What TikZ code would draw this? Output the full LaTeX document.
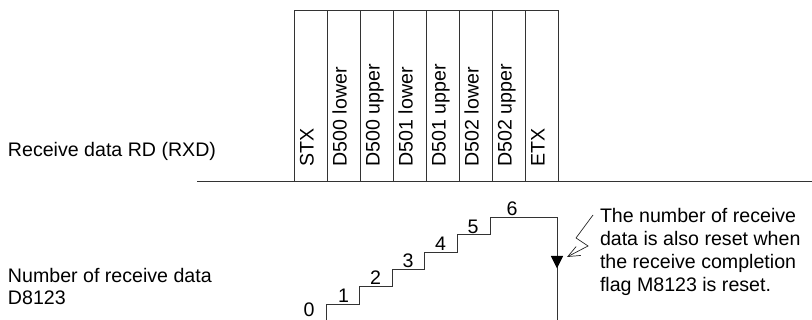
\documentclass[tikz,border=0pt]{standalone}
\usepackage{fontspec}
\setmainfont{Liberation Sans}
\usetikzlibrary{arrows.meta}
\begin{document}
\begin{tikzpicture}[x=1pt,y=-1pt,
  ln/.style={line width=0.9pt, draw=black!80},
  thin ln/.style={line width=0.7pt, draw=black!85},
  txt/.style={font=\fontsize{19.6}{22.8}\selectfont, inner sep=0pt, outer sep=0pt},
  cellbox/.style={rectangle, ln, minimum width=33pt, minimum height=171pt, inner sep=0pt, outer sep=0pt},
  celltext/.style={txt, rotate=90, anchor=west, text height=0.72em, text depth=0.21em},
  num/.style={txt, anchor=base}]
\useasboundingbox (0,0) rectangle (812,320);

% frame cells of the received data
\foreach \t [count=\i from 0] in {STX, D500 lower, D500 upper, D501 lower, D501 upper, D502 lower, D502 upper, ETX} {
  \node[cellbox] (c\i) at (311+33*\i, 95.5) {};
  \node[celltext] (t\i) at (311+33*\i, 166.5) {\t};
}

% signal base line
\coordinate (hl) at (197,181);
\coordinate (hr) at (812,181);
\draw[ln] (hl) -- (hr);

% row labels
\node[txt, anchor=base west] (rdlabel) at (8,156.5) {Receive data RD (RXD)};
\node[txt, anchor=north west, align=left, font=\fontsize{19.6}{22}\selectfont] (cntlabel) at (8,268.7) {Number of receive data\\D8123};

% staircase of the count
\draw[ln] (326.5,320) -- (326.5,304) -- (359.3,304) -- (359.3,286.7) -- (392.1,286.7)
  -- (392.1,269.4) -- (424.9,269.4) -- (424.9,252.1) -- (457.7,252.1) -- (457.7,234.8)
  -- (490.5,234.8) -- (490.5,217.5) -- (557,217.5) -- (557,320);

% count values
\node[num] (n0) at (309,316.5) {0};
\node[num] (n1) at (343.5,302.5) {1};
\node[num] (n2) at (375.5,285) {2};
\node[num] (n3) at (408,267.7) {3};
\node[num] (n4) at (440.5,250.4) {4};
\node[num] (n5) at (473,233.1) {5};
\node[num] (n6) at (512,215.8) {6};

% reset marker
\fill[black] (550.8,256) -- (563.2,256) -- (557,268.5) -- cycle;

% note and lightning leader
\node[txt, anchor=north west, align=left] (note) at (600,208.7)
  {The number of receive\\data is also reset when\\the receive completion\\flag M8123 is reset.};
\coordinate (b1) at (593,215);
\coordinate (b2) at (576,238);
\coordinate (b3) at (588,246);
\coordinate (b4) at (567,257);
\draw[thin ln, -{Straight Barb[length=12pt,width=10pt]}] (b1) -- (b2) -- (b3) -- (b4);
\end{tikzpicture}
\end{document}
